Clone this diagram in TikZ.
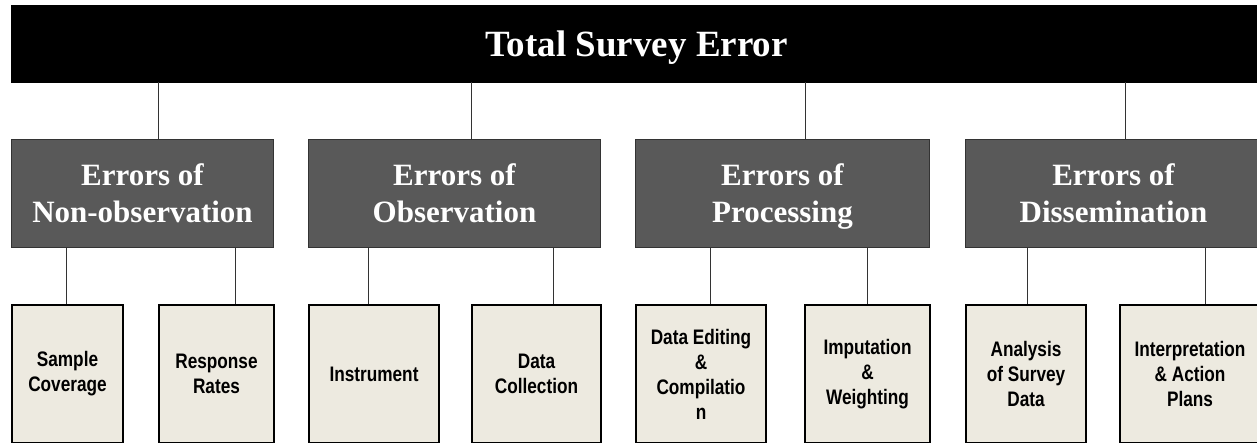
\documentclass[tikz,border=0pt]{standalone}
\usepackage{fontspec}
\setmainfont{Liberation Serif}
\newfontfamily\leaffont[FakeStretch=0.82]{Liberation Sans}
\usetikzlibrary{positioning}
\definecolor{midgray}{RGB}{89,89,89}
\definecolor{leafbeige}{RGB}{237,234,224}
\definecolor{linegray}{RGB}{51,51,51}

\begin{document}
\begin{tikzpicture}[x=1pt,y=-1pt,
    topbar/.style={draw=black,fill=black,text=white,anchor=north west,inner sep=0pt,
        text depth=0pt,font=\bfseries\fontsize{37}{44}\selectfont},
    errbox/.style={draw=linegray,line width=1pt,fill=midgray,text=white,anchor=north west,
        inner sep=0pt,minimum height=108pt,align=center,
        font=\bfseries\fontsize{31}{37}\selectfont},
    leafbox/.style={draw=black,line width=2pt,fill=leafbeige,anchor=north west,
        inner sep=0pt,minimum height=138pt,align=center,
        font=\leaffont\bfseries\fontsize{21}{25}\selectfont},
    link/.style={draw=linegray,line width=1pt}]
    \clip (0,0) rectangle (1257,442);
    \fill[white] (0,0) rectangle (1257,442);
    \node[topbar,minimum width=1251pt,minimum height=77pt] (TSE) at (11,5) {Total Survey Error};
    \node[errbox,minimum width=262pt] (NonObs) at (11,139) {Errors of\\Non-observation};
    \node[errbox,minimum width=292pt] (Obs) at (308,139) {Errors of\\Observation};
    \node[errbox,minimum width=294pt] (Proc) at (635,139) {Errors of\\Processin\smash{g}};
    \node[errbox,minimum width=296pt] (Diss) at (965,139) {Errors of\\Dissemination};
    \node[leafbox,minimum width=111pt] (Samp) at (11,304) {Sample\\Coverage};
    \node[leafbox,minimum width=115pt] (Resp) at (158,304) {Response\\Rates};
    \node[leafbox,minimum width=130pt] (Instr) at (308,304) {Instrument};
    \node[leafbox,minimum width=129pt] (Coll) at (471,304) {Data\\Collection};
    \node[leafbox,minimum width=130pt] (Edit) at (635,304) {Data Editing\\\&\\Compilatio\\n};
    \node[leafbox,minimum width=125pt] (Imp) at (804,304) {Imputation\\\&\\Weighting};
    \node[leafbox,minimum width=120pt] (Anal) at (965,304) {Analysis\\of Survey\\Data};
    \node[leafbox,minimum width=140pt] (Interp) at (1119,304) {Interpretation\\\& Action\\Plans};
    % connector positions
    \coordinate (t1) at (158,0);
    \coordinate (t2) at (471,0);
    \coordinate (t3) at (805,0);
    \coordinate (t4) at (1125,0);
    \draw[link] (TSE.south -| t1) -- (NonObs.north -| t1);
    \draw[link] (TSE.south -| t2) -- (Obs.north -| t2);
    \draw[link] (TSE.south -| t3) -- (Proc.north -| t3);
    \draw[link] (TSE.south -| t4) -- (Diss.north -| t4);
    \coordinate (b1) at (66,0);
    \coordinate (b2) at (235,0);
    \coordinate (b3) at (368,0);
    \coordinate (b4) at (553,0);
    \coordinate (b5) at (710,0);
    \coordinate (b6) at (867,0);
    \coordinate (b7) at (1027,0);
    \coordinate (b8) at (1205,0);
    \draw[link] (NonObs.south -| b1) -- (Samp.north -| b1);
    \draw[link] (NonObs.south -| b2) -- (Resp.north -| b2);
    \draw[link] (Obs.south -| b3) -- (Instr.north -| b3);
    \draw[link] (Obs.south -| b4) -- (Coll.north -| b4);
    \draw[link] (Proc.south -| b5) -- (Edit.north -| b5);
    \draw[link] (Proc.south -| b6) -- (Imp.north -| b6);
    \draw[link] (Diss.south -| b7) -- (Anal.north -| b7);
    \draw[link] (Diss.south -| b8) -- (Interp.north -| b8);
\end{tikzpicture}
\end{document}
